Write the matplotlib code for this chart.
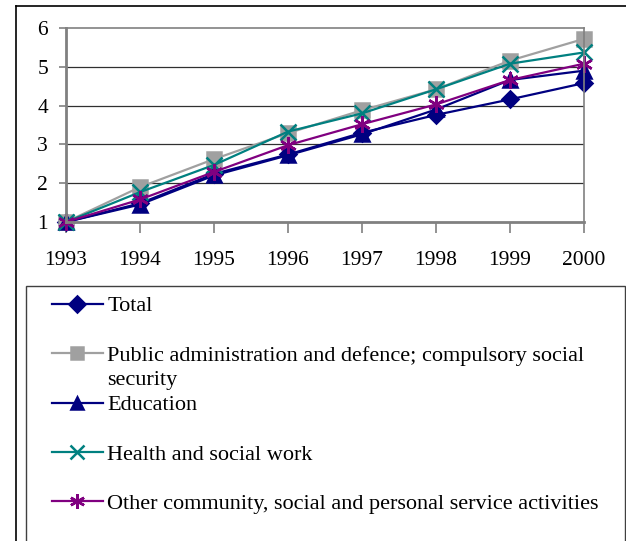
import matplotlib.pyplot as plt
from matplotlib.patches import Rectangle
from matplotlib.lines import Line2D

plt.rcParams['font.family'] = ['Liberation Serif', 'DejaVu Serif']

years = [1993, 1994, 1995, 1996, 1997, 1998, 1999, 2000]
total = [1.0, 1.48, 2.24, 2.74, 3.30, 3.76, 4.16, 4.58]
public_admin = [1.0, 1.90, 2.62, 3.29, 3.88, 4.42, 5.16, 5.72]
education = [1.0, 1.45, 2.20, 2.72, 3.26, 3.90, 4.66, 4.90]
health = [1.0, 1.77, 2.47, 3.33, 3.80, 4.42, 5.08, 5.37]
other = [1.0, 1.58, 2.29, 2.98, 3.52, 4.03, 4.66, 5.08]

labels = [
    'Total',
    'Public administration and defence; compulsory social',
    'Education',
    'Health and social work',
    'Other community, social and personal service activities',
]

W, H = 626, 541
fig = plt.figure(figsize=(W / 100, H / 100), dpi=100)

# outer frame (left and top edges only are visible)
fig.add_artist(Line2D([16 / W, 16 / W], [0, 1 - 6 / H], color='black', lw=1.2))
fig.add_artist(Line2D([16 / W, 1], [1 - 6 / H, 1 - 6 / H], color='black', lw=1.2))

ax = fig.add_axes([66 / W, 1 - 222 / H, (584 - 66) / W, (222 - 28) / H])

series = [
    (total, '#000080', 'D', 8.5),
    (public_admin, '#a0a0a0', 's', 9.5),
    (education, '#000080', '^', 9.5),
    (health, '#008080', 'x', 11),
    (other, '#800080', (6, 2, 0), 12),
]
handles = []
for vals, col, mk, ms in series:
    ln, = ax.plot(years, vals, color=col, lw=1.6, marker=mk, markersize=ms,
                  markerfacecolor=col, markeredgecolor=col, markeredgewidth=1.8,
                  clip_on=False)
    handles.append(ln)

ax.set_xlim(1993, 2000)
ax.set_ylim(1, 6)
ax.set_yticks([1, 2, 3, 4, 5, 6])
ax.set_xticks(years)
for y in [2, 3, 4, 5]:
    ax.axhline(y, color='#303030', lw=0.9, zorder=0)
for s in ax.spines.values():
    s.set_color('#808080')
    s.set_linewidth(1.2)
ax.spines['left'].set_linewidth(2)
ax.spines['bottom'].set_linewidth(2)
ax.tick_params(axis='x', length=8, width=1.2, color='#808080', pad=13,
               labelsize=15.5)
ax.tick_params(axis='y', length=5, width=1.2, color='#808080', pad=8,
               labelsize=15.5)

# legend box
fig.add_artist(Rectangle((26 / W, -0.01), (625 - 26) / W, 1 - 286 / H + 0.01,
                         transform=fig.transFigure, facecolor='white',
                         edgecolor='#404040', lw=1.0))
leg = fig.legend(handles, labels, loc='upper left',
                 bbox_to_anchor=(43 / W, 1 - 287 / H), frameon=False,
                 fontsize=16, handlelength=2.3, handletextpad=0.2,
                 labelspacing=1.3, borderaxespad=0)
for h in leg.legend_handles:
    h.set_markersize(h.get_markersize() * 0.9)
fig.text(107 / W, 1 - 380 / H, 'security', fontsize=16, va='center')

fig.savefig('out.png', dpi=100)
